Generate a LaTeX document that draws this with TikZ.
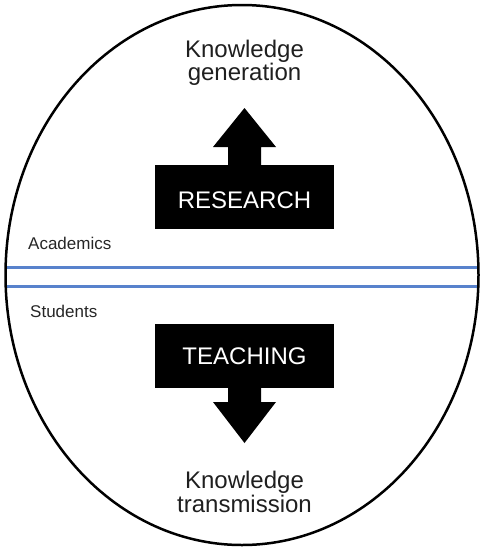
\documentclass[tikz,border=0pt]{standalone}
\usepackage{fontspec}
\setmainfont{Liberation Sans}
\usepackage{tikz}
\definecolor{divblue}{RGB}{88,130,204}
\tikzset{
  actbox/.style={fill=black,minimum width=179pt,minimum height=64pt,inner sep=0pt,
    text=white,font=\fontsize{24}{24}\selectfont},
  outcome/.style={align=center,anchor=base,inner sep=0pt,text=black!88,
    font=\fontsize{24}{24}\selectfont},
  group/.style={anchor=base west,inner sep=0pt,text=black!85,
    font=\fontsize{17}{17}\selectfont},
  divider/.style={divblue,line width=3pt},
}

\begin{document}
\begin{tikzpicture}[x=1pt,y=-1pt,join=round] % research above, teaching below
        \useasboundingbox (0,0) rectangle (481,549);
        \begin{scope}
                \clip (242,275) ellipse (236.5pt and 270pt);
                \draw[divider] (0,267) -- (481,267);
                \draw[divider] (0,286) -- (481,286);
        \end{scope}
        \draw[line width=2.5pt] (242,275) ellipse (236.5pt and 270pt);
        \node[actbox,text height=24pt] (research) at (244.5,197) {RESEARCH};
        \node[actbox] (teaching) at (244.5,356) {TEACHING};
        \fill(228,165)--(228,147)--(213,147)--(244.5,108)--(276,147)--(261,147)--(261,165)--cycle;
        \fill(228,388)--(228,402)--(213,402)--(244.5,443)--(276,402)--(261,402)--(261,388)--cycle;
        \node[outcome] (generation) at (244.5,80) {Knowledge\\[-1pt]generation};
        \node[outcome] (transmission) at (244.5,512) {Knowledge\\[0pt]transmission};
        \node[group] (academics) at (28,249) {Academics};
        \node[group] (students) at (30,317) {Students};
\end{tikzpicture}
\end{document}
